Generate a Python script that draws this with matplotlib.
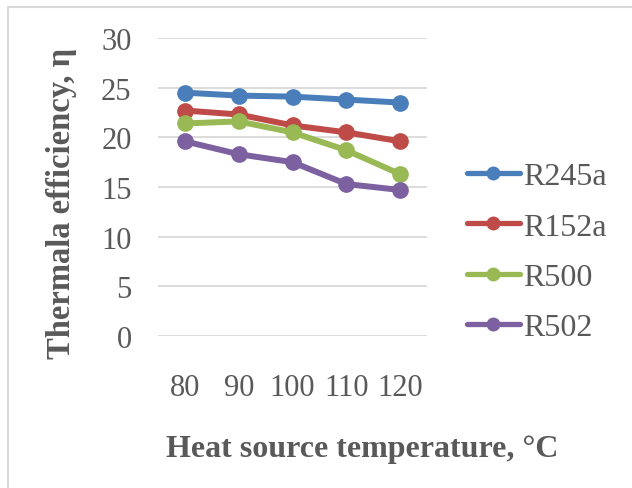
import matplotlib
matplotlib.use('Agg')
import matplotlib.pyplot as plt
from matplotlib.lines import Line2D

# Heat source temperatures (categories)
temps = ['80', '90', '100', '110', '120']

# Thermal efficiency per refrigerant
r245a = [24.5, 24.2, 24.1, 23.8, 23.5]
r152a = [22.7, 22.3, 21.2, 20.5, 19.6]
r500 = [21.4, 21.6, 20.5, 18.7, 16.3]
r502 = [19.6, 18.3, 17.5, 15.3, 14.7]

names = ['R245a', 'R152a', 'R500', 'R502']
colors = ['#4A7EBB', '#BE4B48', '#98B954', '#7D60A0']
gray = '#595959'

plt.rcParams['font.family'] = ['Liberation Serif', 'DejaVu Serif']

fig = plt.figure(figsize=(6.32, 4.89), dpi=100)
ax = fig.add_axes([158 / 632, 1 - 337 / 489, (427 - 158) / 632, (337 - 39) / 489])

x = range(len(temps))
for vals, name, c in zip([r245a, r152a, r500, r502], names, colors):
    ax.plot(x, vals, color=c, lw=4.3, marker='o', ms=11, label=name,
            solid_capstyle='round', clip_on=False)

ax.set_xlim(-0.5, len(temps) - 0.5)
ax.set_ylim(0, 30)
ax.set_yticks(range(0, 31, 5))
ax.set_xticks(list(x))
ax.set_xticklabels(temps)
ax.grid(axis='y', color='#D9D9D9', lw=1.3)
ax.set_axisbelow(True)
for s in ax.spines.values():
    s.set_visible(False)
ax.tick_params(length=0, labelsize=22, colors=gray)
ax.tick_params(axis='y', pad=19)
ax.tick_params(axis='x', pad=27)

ax.set_ylabel('Thermala efficiency, η', fontsize=23.5, fontweight='bold',
              color=gray)
ax.yaxis.set_label_coords(-(158 - 62) / 269, 0.5 - (203 - 188) / 298)
ax.set_xlabel('Heat source temperature, °C', fontsize=23, fontweight='bold',
              color=gray)
ax.xaxis.set_label_coords((362 - 158) / 269, -(450 - 337) / 298)
ax.xaxis.label.set_va('center')
ax.yaxis.label.set_va('center')

leg = fig.legend(loc='center left', bbox_to_anchor=(467 / 632, 1 - 253 / 489),
                 frameon=False, fontsize=23, handlelength=1.65, borderpad=0,
                 borderaxespad=0, handletextpad=0.12, labelspacing=0.65,
                 labelcolor=gray)
for h in leg.legend_handles:
    h.set_linewidth(3.8)
    h.set_markersize(9)

# outer chart frame
fig.add_artist(Line2D([8 / 632, 8 / 632, 1.0], [0.0, 1 - 8 / 489, 1 - 8 / 489],
                      transform=fig.transFigure, color='#D9D9D9', lw=1.5))

fig.savefig('out.png', dpi=100)
